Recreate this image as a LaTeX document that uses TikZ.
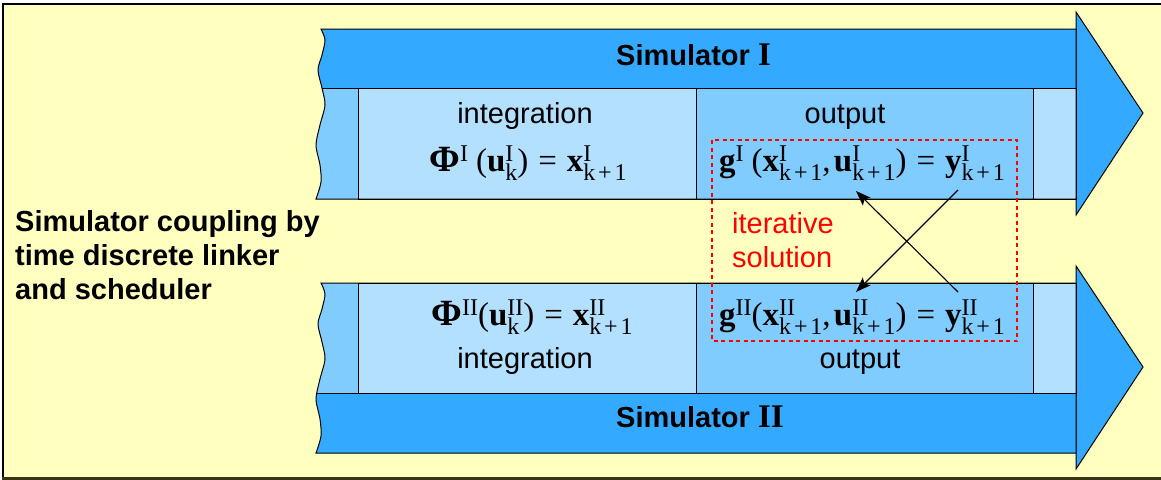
\documentclass[tikz,border=0pt]{standalone}
\usepackage{fontspec}
\setmainfont{Liberation Sans}
\newfontfamily\tms{Liberation Serif}
\usetikzlibrary{arrows.meta}

\definecolor{paper}{HTML}{FFFFC0}
\definecolor{band}{HTML}{33AAFF}
\definecolor{midblue}{HTML}{80CCFF}
\definecolor{paleblue}{HTML}{B3E0FF}
\definecolor{frameline}{HTML}{3A3318}
\definecolor{solred}{HTML}{FF0000}

% formula pieces (text mode, serif): bold variables, upright indices
\newcommand\mb[1]{{\tms\bfseries #1}}
\newcommand\mr[1]{{\tms\mdseries #1}}
\newcommand\bigphi{{\tms\bfseries\fontsize{37}{40}\selectfont Φ}}
% superscript #1 over subscript #2, as wide as the wider of the two
\newcommand\sco[2]{{\tms\mdseries\fontsize{24}{24}\selectfont
  \setbox0=\hbox{#1}\setbox2=\hbox{#2}%
  \ifdim\wd0>\wd2 \dimen0=\wd0 \else \dimen0=\wd2 \fi
  \rlap{\raisebox{10pt}{\box0}}\rlap{\raisebox{-9pt}{\box2}}\hspace*{\dimen0}}}
\newcommand\kk{k\hspace{0.12em}+\hspace{0.12em}1}
\newcommand\eq{\hspace{0.3em}\mr{=}\hspace{0.3em}}

% simulator body with its torn left edge
\newcommand\simbody{plot[smooth] coordinates {(321,29) (325,40) (322,55) (318,70) (322,88) (325,105) (320,125) (316,145) (320,165) (321,182) (316,199)} -- (1076,199) -- (1076,29) -- cycle}
\newcommand\simhead{(1076,12) -- (1143,113) -- (1076,215) -- cycle}

\tikzset{
  txt/.style={inner sep=0pt, font=\fontsize{29}{34}\selectfont},
  btxt/.style={txt, font=\fontsize{29}{34}\selectfont\bfseries},
  formula/.style={inner sep=0pt, font=\fontsize{33}{40}\selectfont},
  outline/.style={draw=black, line width=1pt},
  link/.style={draw=black, line width=1.1pt, -{Stealth[length=15pt, width=11pt, inset=3pt]}},
  iterbox/.style={draw=solred, line width=1.5pt, dash pattern=on 4pt off 3.5pt},
}

\begin{document}
\begin{tikzpicture}[x=1pt, y=-1pt]
\useasboundingbox (0,0) rectangle (1161,479);

% paper frame
\fill[paper] (3,4) rectangle (1170,478);
\draw[black, line width=1.5pt] (1170,4) -- (3,4) -- (3,478);
\draw[frameline, line width=3pt] (2,478) -- (1170,478);

% ---------- Simulator I ----------
\filldraw[band, outline] \simhead;
\fill[band] \simbody;
\begin{scope}
  \clip (300,88) rectangle (358,199);
  \fill[midblue] \simbody;
\end{scope}
\filldraw[fill=paleblue, outline] (358,88) rectangle (696,199);
\filldraw[fill=midblue, outline] (696,88) rectangle (1033,199);
\filldraw[fill=paleblue, outline] (1033,88) rectangle (1076,199);
\begin{scope}
  \clip \simbody;
  \draw[outline] (300,88) -- (1080,88);
\end{scope}
\draw[outline] \simbody;

% ---------- Simulator II ----------
\begin{scope}[shift={(0,254)}]
  \filldraw[band, outline] \simhead;
  \fill[band] \simbody;
  \begin{scope}
    \clip (300,29) rectangle (358,139);
    \fill[midblue] \simbody;
  \end{scope}
  \filldraw[fill=paleblue, outline] (358,29) rectangle (696,139);
  \filldraw[fill=midblue, outline] (696,29) rectangle (1033,139);
  \filldraw[fill=paleblue, outline] (1033,29) rectangle (1076,139);
  \begin{scope}
    \clip \simbody;
    \draw[outline] (300,139) -- (1080,139);
  \end{scope}
  \draw[outline] \simbody;
\end{scope}

% titles
\node[btxt, anchor=base west] (simI) at (616,65) {Simulator {\tms\fontsize{33}{40}\selectfont I}};
\node[btxt, anchor=base west] (simII) at (616,427) {Simulator {\tms\fontsize{33}{40}\selectfont II}};

% coupling description
\node[btxt, anchor=north west, align=left] (coupling) at (15,210)
  {Simulator coupling by\\time discrete linker\\and scheduler};

% cell labels
\node[txt, anchor=base] (intI) at (525,123) {integration};
\node[txt, anchor=base] (outI) at (845,123) {output};
\node[txt, anchor=base] (intII) at (525,368) {integration};
\node[txt, anchor=base] (outII) at (860,368) {output};

% formulas
\node[formula, anchor=base] (phiI) at (528,171)
  {\bigphi\sco{I}{\hphantom{II}}\mr{(}\mb{u}\sco{I}{k}\mr{)}\eq\mb{x}\sco{I}{\kk}};
\node[formula, anchor=base] (gI) at (862,171)
  {\mb{g}\sco{I}{\hphantom{II}}\mr{(}\mb{x}\sco{I}{\kk}\mr{,}\hspace{0.1em}\mb{u}\sco{I}{\kk}\mr{)}\eq\mb{y}\sco{I}{\kk}};
\node[formula, anchor=base] (phiII) at (532,325)
  {\bigphi\sco{II}{}\mr{(}\mb{u}\sco{II}{k}\mr{)}\eq\mb{x}\sco{II}{\kk}};
\node[formula, anchor=base] (gII) at (862,325)
  {\mb{g}\sco{II}{}\mr{(}\mb{x}\sco{II}{\kk}\mr{,}\hspace{0.1em}\mb{u}\sco{II}{\kk}\mr{)}\eq\mb{y}\sco{II}{\kk}};

% iterative solution region
\draw[iterbox] (712,140) rectangle (1017,341);
\node[txt, anchor=north west, align=left, text=solred] (iter) at (732,212) {iterative\\solution};

% exchange between the two output equations
\coordinate (yI) at (958,190);
\coordinate (uI) at (856,191);
\coordinate (yII) at (958,292);
\coordinate (uII) at (856,292);
\draw[link] (yII) -- (uI);
\draw[link] (yI) -- (uII);
\end{tikzpicture}
\end{document}
